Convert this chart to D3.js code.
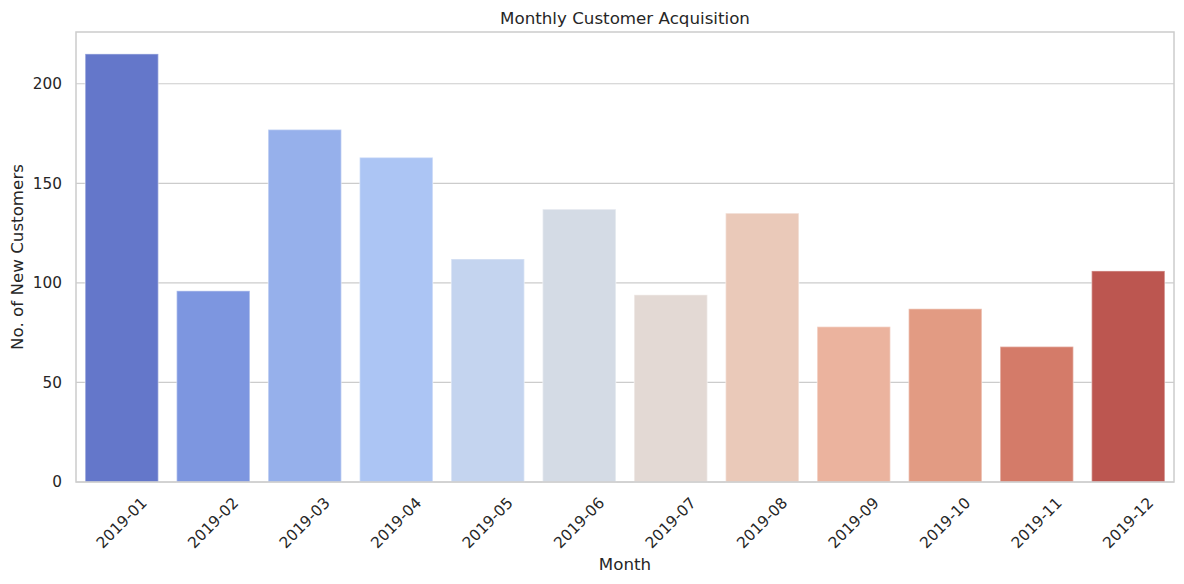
<!DOCTYPE html>
<html>
<head>
<meta charset="utf-8">
<script src="https://cdn.jsdelivr.net/npm/d3@7/dist/d3.min.js"></script>
<style>
  body { margin: 0; background: #fff; }
  text { font-family: 'DejaVu Sans', sans-serif; fill: #262626; }
</style>
</head>
<body>
<div id="plot"></div>
<script>
'use strict';

const months = ['2019-01', '2019-02', '2019-03', '2019-04', '2019-05', '2019-06',
  '2019-07', '2019-08', '2019-09', '2019-10', '2019-11', '2019-12']
const customers = [215, 96, 177, 163, 112, 137, 94, 135, 78, 87, 68, 106]
const colors = ['#6477ca', '#7d96e0', '#96b0eb', '#acc5f4', '#c4d4ef', '#d4dbe5',
  '#e3d9d4', '#eac9b9', '#ebb39e', '#e29b83', '#d47b69', '#bc5650']
const yTicks = [0, 50, 100, 150, 200]

let width = 1184
let height = 584
let margin = {left: 76, right: 10, top: 32, bottom: 102}

let svg = d3.select('#plot').append('svg')
  .attr('width', width)
  .attr('height', height)

let x = d3.scaleBand()
  .domain(months)
  .range([margin.left, width - margin.right])
  .paddingInner(0.2)
  .paddingOuter(0.1)

let y = d3.scaleLinear()
  .domain([0, 226])
  .range([height - margin.bottom, margin.top])

// grid first, bars on top
svg.append('g')
  .selectAll('line')
  .data(yTicks)
  .enter()
  .append('line')
  .attr('x1', margin.left)
  .attr('x2', width - margin.right)
  .attr('y1', d => y(d))
  .attr('y2', d => y(d))
  .attr('stroke', '#cccccc')
  .attr('stroke-width', 1.2)

svg.append('g')
  .selectAll('rect')
  .data(customers)
  .enter()
  .append('rect')
  .attr('x', (d, i) => x(months[i]))
  .attr('y', d => y(d))
  .attr('width', x.bandwidth())
  .attr('height', d => y(0) - y(d))
  .attr('fill', (d, i) => colors[i])
  .attr('stroke', '#fff')
  .attr('stroke-opacity', 0.35)
  .attr('stroke-width', 1.5)

// frame
svg.append('rect')
  .attr('x', margin.left)
  .attr('y', margin.top)
  .attr('width', width - margin.right - margin.left)
  .attr('height', y(0) - margin.top)
  .attr('fill', 'none')
  .attr('stroke', '#cccccc')
  .attr('stroke-width', 1.5)

let y_axis = d3.axisLeft(y)
  .tickValues(yTicks)
  .tickSize(0)
  .tickPadding(14)
svg.append('g')
  .attr('transform', `translate(${margin.left}, 0)`)
  .call(y_axis)
  .call(g => g.select('.domain').remove())
  .selectAll('text')
  .attr('font-size', '15.3px')
  .attr('font-family', 'DejaVu Sans')
  .attr('fill', '#262626')

let x_axis = d3.axisBottom(x)
  .tickSize(0)
  .tickPadding(0)
svg.append('g')
  .attr('transform', `translate(0, ${y(0)})`)
  .call(x_axis)
  .call(g => g.select('.domain').remove())
  .selectAll('text')
  .attr('font-size', '15.3px')
  .attr('font-family', 'DejaVu Sans')
  .attr('fill', '#262626')
  .attr('text-anchor', 'middle')
  .attr('dy', null)
  .attr('y', null)
  .attr('dominant-baseline', 'central')
  .attr('transform', 'translate(0, 41) rotate(-45)')

svg.append('text')
  .attr('x', (margin.left + width - margin.right) / 2)
  .attr('y', 24)
  .attr('text-anchor', 'middle')
  .attr('font-size', '16.7px')
  .text('Monthly Customer Acquisition')

svg.append('text')
  .attr('x', (margin.left + width - margin.right) / 2)
  .attr('y', 570)
  .attr('text-anchor', 'middle')
  .attr('font-size', '16.7px')
  .text('Month')

svg.append('text')
  .attr('transform', `translate(23, ${(margin.top + y(0)) / 2}) rotate(-90)`)
  .attr('text-anchor', 'middle')
  .attr('font-size', '16.7px')
  .text('No. of New Customers')
</script>
</body>
</html>
